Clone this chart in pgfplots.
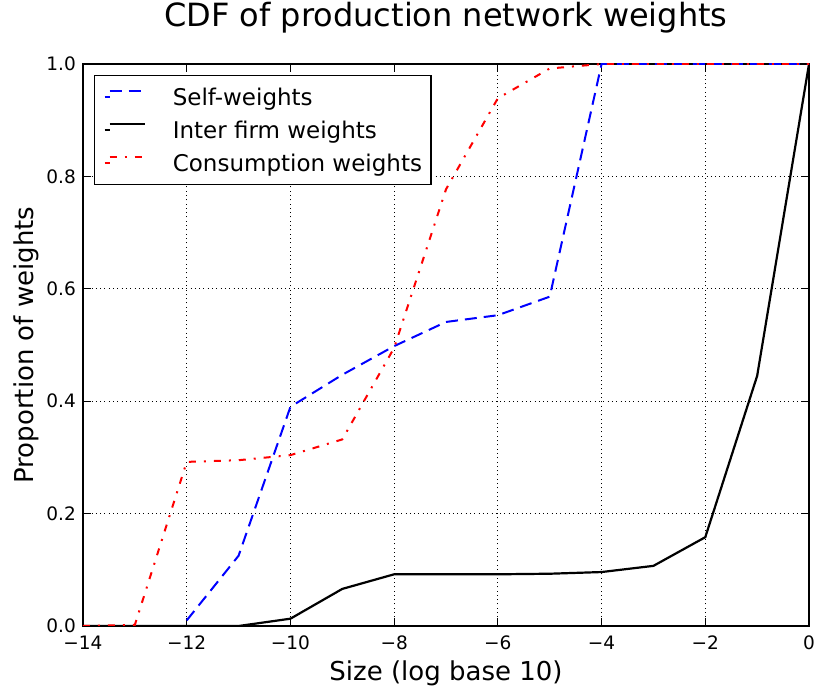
\documentclass[border=0pt]{standalone}
\usepackage{fontspec}
\setmainfont{DejaVu Sans}
\usepackage{pgfplots}
\pgfplotsset{compat=1.18}

\begin{document}
\begin{tikzpicture}
\begin{axis}[
  scale only axis,
  width=726pt, height=562pt,
  xmin=-14, xmax=0, ymin=0, ymax=1,
  xtick={-14,-12,-10,-8,-6,-4,-2,0},
  xticklabels={−14,−12,−10,−8,−6,−4,−2,0},
  ytick={0,0.2,0.4,0.6,0.8,1},
  yticklabels={0.0,0.2,0.4,0.6,0.8,1.0},
  tick align=inside,
  xtick pos=both, ytick pos=both,
  major tick length=8pt,
  tick style={black, line width=1pt},
  axis line style={black, line width=1.3pt},
  grid=major,
  major grid style={black, line width=0.9pt, dash pattern=on 1pt off 3.3pt},
  ticklabel style={font=\fontsize{18.5}{22}\selectfont},
  xticklabel style={inner sep=0pt, yshift=-10pt},
  yticklabel style={inner sep=0pt, xshift=-7pt},
  title={CDF of production network weights},
  title style={at={(axis description cs:0.5,1)}, anchor=base, yshift=31pt,
    inner sep=0pt, font=\fontsize{32}{38}\selectfont},
  xlabel={Size (log base 10)},
  xlabel style={at={(axis description cs:0.5,0)}, anchor=base, yshift=-54pt,
    inner sep=0pt, font=\fontsize{26}{31}\selectfont},
  ylabel={Proportion of weights},
  ylabel style={at={(axis description cs:-0.0675,0.5)}, anchor=base,
    inner sep=0pt, font=\fontsize{26}{31}\selectfont},
  legend cell align=left,
  legend image code/.code={\path (0pt,0pt) -- (5pt,0pt);
    \draw[#1] (5pt,6pt) -- (40pt,6pt);},
  legend style={at={(axis description cs:0.01515,0.9804)}, anchor=north west,
    draw=black, line width=1.3pt, inner xsep=9pt, inner ysep=12pt,
    row sep=14pt, column sep=27pt,
    nodes={inner sep=0pt},
    font=\fontsize{23}{28}\selectfont},
]
\addplot[blue, line width=2pt, dash pattern=on 12pt off 7pt] coordinates {
  (-12,0.01)(-11,0.125)(-10,0.39)(-9,0.447)(-8,0.498)(-7,0.541)
  (-6,0.553)(-5,0.586)(-4,1.0)(-3,1.0)(-2,1.0)(-1,1.0)(0,1.0)
};
\addplot[black, line width=2.2pt] coordinates {
  (-14,0)(-13,0)(-12,0)(-11,0)(-10,0.013)(-9,0.066)(-8,0.092)
  (-7,0.092)(-6,0.092)(-5,0.093)(-4,0.096)(-3,0.107)(-2,0.158)
  (-1,0.445)(0,1.0)
};
\addplot[red, line width=2pt, dash pattern=on 7pt off 8pt on 2pt off 8pt] coordinates {
  (-14,0)(-13,0.002)(-12,0.292)(-11,0.295)(-10,0.304)(-9,0.332)
  (-8,0.495)(-7,0.777)(-6,0.939)(-5,0.992)(-4,1.0)(-3,1.0)(-2,1.0)
  (-1,1.0)(0,1.0)
};
\legend{Self-weights, Inter firm weights, Consumption weights}
\end{axis}
\path ([shift={(-83pt,-64pt)}]current axis.south west)
  rectangle ([shift={(7pt,64pt)}]current axis.north east);
\end{tikzpicture}
\end{document}
